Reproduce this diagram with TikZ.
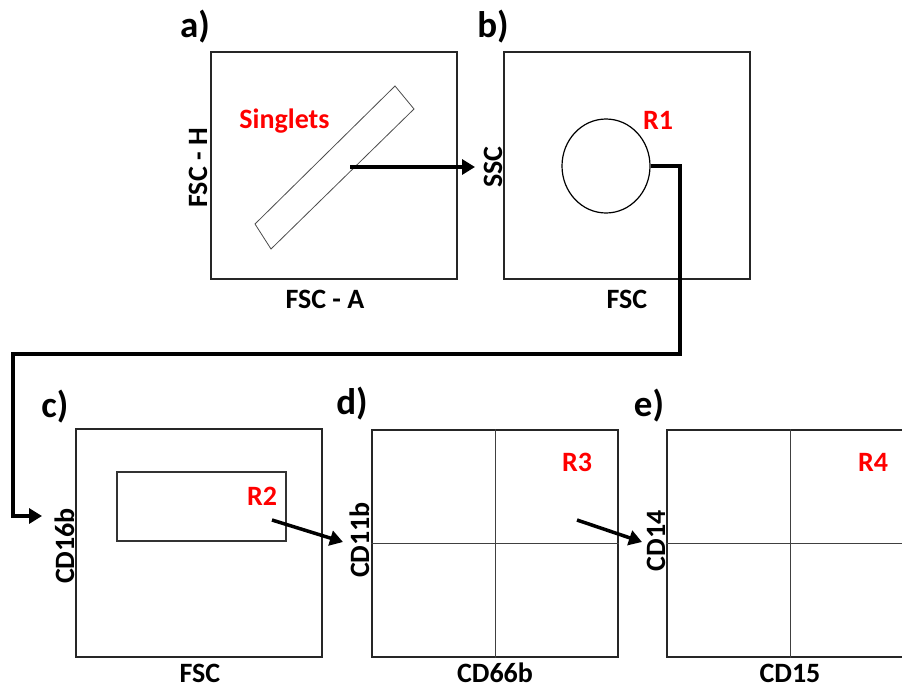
\documentclass[tikz,border=0pt]{standalone}
\usepackage{fontspec}
\setmainfont{Carlito}
\usetikzlibrary{arrows.meta,shapes.geometric}
\definecolor{gatered}{RGB}{255,0,0}
\begin{document}
\begin{tikzpicture}[x=1pt,y=-1pt,
  plotbox/.style={draw=black!85,line width=1.6pt,rectangle,inner sep=0pt,minimum width=246pt,minimum height=227pt},
  axislab/.style={font=\fontsize{28}{30}\selectfont\bfseries,inner sep=0pt,anchor=base},
  vlab/.style={axislab,rotate=90},
  panellab/.style={font=\fontsize{37}{40}\selectfont\bfseries,inner sep=0pt,anchor=base},
  gatelab/.style={font=\fontsize{28}{30}\selectfont\bfseries,text=gatered,inner sep=0pt,anchor=base},
  divider/.style={draw=black!75,line width=1pt},
  gateline/.style={draw=black!80,line width=1.2pt},
  flow/.style={draw=black,line width=3.5pt,-{Triangle[length=13pt,width=15pt]}}
]
\useasboundingbox (0,0) rectangle (902,688);

% panel a
\node[plotbox] (pa) at (334,165.5) {};
\node[panellab] (la) at (195,37) {a)};
\node[axislab] (xa) at (325,308) {FSC - A};
\node[vlab] (ya) at (207,168) {FSC - H};
\coordinate (g1) at (255,224);
\coordinate (g2) at (271,249);
\coordinate (g3) at (414,109);
\coordinate (g4) at (395,86);
\draw[draw=black!70,line width=0.8pt] (g1) -- (g2) -- (g3) -- (g4) -- cycle;
\node[gatelab] (singlets) at (284.5,128) {Singlets};
\coordinate (astart) at (350,167);

% panel b
\node[plotbox] (pb) at (627,165.5) {};
\node[panellab] (lb) at (493,37) {b)};
\node[axislab] (xb) at (627,308) {FSC};
\node[vlab] (yb) at (502,167) {SSC};
\node[ellipse,draw=black,line width=1.2pt,minimum width=88pt,minimum height=94pt,inner sep=0pt] (r1gate) at (606,166) {};
\node[gatelab] (r1) at (658,129) {R1};
\coordinate (bend) at (475,167);
\draw[flow] (astart) -- (bend);

% connector b -> c
\coordinate (k1) at (680,354);
\coordinate (k2) at (13,354);
\coordinate (cin) at (42,516);
\draw[flow] (r1gate.east) -| (k1) -- (k2) |- (cin);

% panel c
\node[plotbox,minimum height=228pt] (pc) at (199,543) {};
\node[panellab] (lc) at (55,417) {c)};
\node[axislab] (xc) at (200,682) {FSC};
\node[vlab] (yc) at (74,546) {CD16b};
\coordinate (c1) at (117,472);
\coordinate (c2) at (286,541);
\draw[gateline] (c1) rectangle (c2);
\node[gatelab] (r2) at (262,505) {R2};
\coordinate (cstart) at (272,520);
\coordinate (dend) at (343,542);
\draw[flow] (cstart) -- (dend);

% panel d
\node[plotbox] (pd) at (495,543.5) {};
\node[panellab] (ld) at (352,414) {d)};
\node[axislab] (xd) at (495,682) {CD66b};
\node[vlab] (yd) at (369,540) {CD11b};
\draw[divider] (pd.north) -- (pd.south);
\draw[divider] (pd.west) -- (pd.east);
\node[gatelab] (r3) at (577,471) {R3};
\coordinate (dstart) at (577,520);
\coordinate (eend) at (642,542);
\draw[flow] (dstart) -- (eend);

% panel e
\node[plotbox] (pe) at (790,543.5) {};
\node[panellab] (le) at (649,416) {e)};
\node[axislab] (xe) at (790,682) {CD15};
\node[vlab] (ye) at (665,541) {CD14};
\draw[divider] (pe.north) -- (pe.south);
\draw[divider] (pe.west) -- (pe.east);
\node[gatelab] (r4) at (873,471) {R4};
\end{tikzpicture}
\end{document}
